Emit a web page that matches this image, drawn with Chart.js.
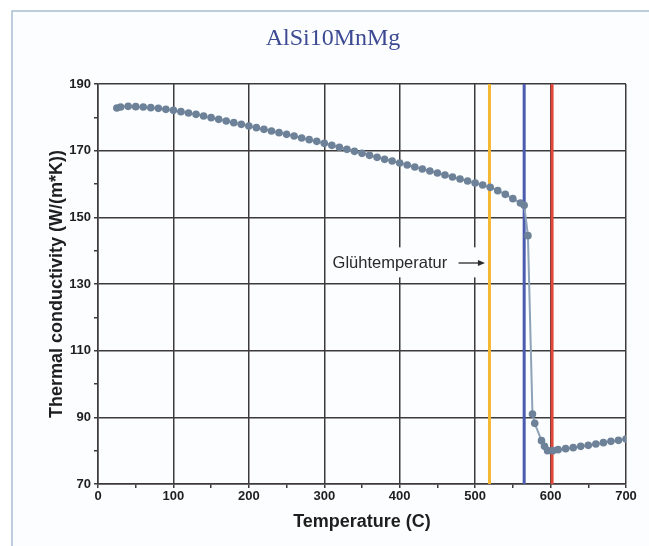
<!DOCTYPE html>
<html>
<head>
<meta charset="utf-8">
<script src="https://cdn.jsdelivr.net/npm/chart.js@4/dist/chart.umd.min.js"></script>
<style>
  html, body { margin: 0; padding: 0; background: #ffffff; }
  #wrap { width: 649px; height: 546px; position: relative; }
</style>
</head>
<body>
<div id="wrap"><canvas id="c" width="649" height="546"></canvas></div>
<script>
// ---- data ----
const chartTitle = "AlSi10MnMg";
const xAxisTitle = "Temperature (C)";
const yAxisTitle = "Thermal conductivity (W/(m*K))";
const annotationText = "Glühtemperatur";

const temperatures = [25, 30, 40, 50, 60, 70, 80, 90, 100, 110, 120, 130, 140, 150, 160, 170, 180, 190, 200,
  210, 220, 230, 240, 250, 260, 270, 280, 290, 300, 310, 320, 330, 340, 350, 360, 370, 380, 390, 400,
  410, 420, 430, 440, 450, 460, 470, 480, 490, 500, 510, 520, 530, 540, 550, 560, 565,
  570, 576, 579, 588, 592, 596, 603, 610, 620, 630, 640, 650, 660, 670, 680, 690, 700];
const conductivity = [182.8, 183.1, 183.3, 183.2, 183.1, 182.9, 182.7, 182.4, 182.1, 181.7, 181.3, 180.9, 180.4, 179.9, 179.4, 178.9, 178.4, 177.9, 177.4,
  176.9, 176.4, 175.9, 175.4, 174.9, 174.4, 173.8, 173.3, 172.8, 172.2, 171.6, 171.0, 170.4, 169.8, 169.2, 168.6, 168.0, 167.4, 166.9, 166.3,
  165.7, 165.1, 164.5, 163.9, 163.3, 162.7, 162.1, 161.5, 160.9, 160.3, 159.7, 159.0, 158.0, 156.9, 155.6, 154.3, 153.6,
  144.5, 91.0, 88.2, 83.0, 81.3, 80.0, 80.0, 80.3, 80.6, 80.9, 81.3, 81.6, 82.0, 82.4, 82.8, 83.1, 83.5];

// vertical marker lines (temperature, colour)
const markerTemps = [519, 565, 602];
const markerColors = ["#f5b632", "#4a5bb0", "#e2483a"];

const xTicks = [0, 100, 200, 300, 400, 500, 600, 700];
const yTicks = [70, 90, 110, 130, 150, 170, 190];
const xMin = 0, xMax = 700, yMin = 70, yMax = 190;
// annotation label centre and arrow, in data units (temperature / conductivity)
const annotationAt = { x: 387, y: 136.3, arrowFrom: 478, arrowTo: 513, boxTop: 141, boxBottom: 132 };

// ---- build ----
const points = temperatures.map((t, i) => ({ x: t, y: conductivity[i] }));
const markerSets = markerTemps.map((t, i) => ({
  type: 'line',
  data: [{ x: t, y: yMin }, { x: t, y: yMax }],
  borderColor: markerColors[i],
  borderWidth: 3,
  pointRadius: 0,
  fill: false,
  order: 2
}));

const GRID = '#3c3a3a';
const TXT = '#1e1e1e';

const framePlugin = {
  id: 'frame',
  beforeDraw(chart) {
    const ctx = chart.ctx;
    ctx.save();
    ctx.fillStyle = '#ffffff';
    ctx.fillRect(0, 0, chart.width, chart.height);
    ctx.fillStyle = '#fcfdfe';
    ctx.fillRect(12, 11, chart.width - 12, chart.height - 11);
    ctx.strokeStyle = '#a9bdd1';
    ctx.lineWidth = 1.5;
    ctx.beginPath();
    ctx.moveTo(12, chart.height);
    ctx.lineTo(12, 11);
    ctx.lineTo(chart.width, 11);
    ctx.stroke();
    // title
    ctx.fillStyle = '#3c4a94';
    ctx.font = '24px "Liberation Serif", "Times New Roman", serif';
    ctx.textAlign = 'center';
    ctx.textBaseline = 'middle';
    ctx.fillText(chartTitle, 333, 39);
    ctx.restore();
  },
  beforeDatasetsDraw(chart) {
    const ctx = chart.ctx;
    const xs = chart.scales.x, ys = chart.scales.y;
    const cx = xs.getPixelForValue(annotationAt.x);
    const cy = ys.getPixelForValue(annotationAt.y);
    const ax0 = xs.getPixelForValue(annotationAt.arrowFrom);
    const ax1 = xs.getPixelForValue(annotationAt.arrowTo);
    const bt = ys.getPixelForValue(annotationAt.boxTop);
    const bb = ys.getPixelForValue(annotationAt.boxBottom);
    ctx.save();
    ctx.font = '16.5px "Liberation Sans", Arial, sans-serif';
    const w = ctx.measureText(annotationText).width;
    ctx.fillStyle = '#fcfdfe';
    const left = cx - w / 2 - 4;
    ctx.fillRect(left, bt, ax1 - left + 1, bb - bt);
    ctx.fillStyle = '#2a2a2a';
    ctx.textAlign = 'center';
    ctx.textBaseline = 'middle';
    ctx.fillText(annotationText, cx, cy);
    // arrow
    ctx.strokeStyle = '#2a2a2a';
    ctx.lineWidth = 1.3;
    ctx.beginPath();
    ctx.moveTo(ax0, cy);
    ctx.lineTo(ax1 - 5, cy);
    ctx.stroke();
    ctx.beginPath();
    ctx.moveTo(ax1, cy);
    ctx.lineTo(ax1 - 7, cy - 3);
    ctx.lineTo(ax1 - 7, cy + 3);
    ctx.closePath();
    ctx.fill();
    ctx.restore();
  }
};

new Chart(document.getElementById('c'), {
  type: 'scatter',
  data: {
    datasets: [
      {
        data: points,
        showLine: true,
        borderColor: '#8ea2b8',
        borderWidth: 2,
        backgroundColor: '#6d8298',
        pointBackgroundColor: '#6d8298',
        pointBorderColor: '#6d8298',
        pointRadius: 3.8,
        pointBorderWidth: 0,
        order: 1
      },
      ...markerSets
    ]
  },
  options: {
    responsive: false,
    animation: false,
    devicePixelRatio: 1,
    layout: { padding: { top: 84, right: 23, left: 0, bottom: 0 } },
    plugins: { legend: { display: false }, tooltip: { enabled: false }, title: { display: false } },
    scales: {
      x: {
        type: 'linear',
        min: xMin, max: xMax,
        afterBuildTicks(scale) {
          const t = [];
          for (let v = xMin; v <= xMax; v += 50) t.push({ value: v });
          scale.ticks = t;
        },
        afterFit(scale) { scale.height = 62; },
        ticks: {
          callback: (v) => xTicks.includes(v) ? String(v) : '',
          color: TXT,
          font: { family: '"Liberation Sans", Arial, sans-serif', size: 13, weight: 'bold' },
          padding: 1,
          maxRotation: 0,
          autoSkip: false
        },
        grid: {
          color: (ctx) => (ctx.tick && xTicks.includes(ctx.tick.value)) ? GRID : 'rgba(0,0,0,0)',
          tickColor: GRID,
          lineWidth: 1.5,
          tickLength: 4,
          drawTicks: true
        },
        border: { color: GRID, width: 1.5 },
        title: {
          display: true,
          text: xAxisTitle,
          color: TXT,
          font: { family: '"Liberation Sans", Arial, sans-serif', size: 18, weight: 'bold' },
          padding: { top: 0, bottom: 13 }
        }
      },
      y: {
        type: 'linear',
        min: yMin, max: yMax,
        afterBuildTicks(scale) {
          const t = [];
          for (let v = yMin; v <= yMax; v += 10) t.push({ value: v });
          scale.ticks = t;
        },
        afterFit(scale) { scale.width = 98; },
        ticks: {
          callback: (v) => yTicks.includes(v) ? String(v) : '',
          color: TXT,
          font: { family: '"Liberation Sans", Arial, sans-serif', size: 13, weight: 'bold' },
          padding: 3,
          autoSkip: false
        },
        grid: {
          color: (ctx) => (ctx.tick && yTicks.includes(ctx.tick.value)) ? GRID : 'rgba(0,0,0,0)',
          tickColor: GRID,
          lineWidth: 1.5,
          tickLength: 4
        },
        border: { color: GRID, width: 1.5 },
        title: {
          display: true,
          text: yAxisTitle,
          color: TXT,
          font: { family: '"Liberation Sans", Arial, sans-serif', size: 18, weight: 'bold' },
          padding: { top: 46, bottom: 0 }
        }
      }
    }
  },
  plugins: [framePlugin]
});
</script>
</body>
</html>
